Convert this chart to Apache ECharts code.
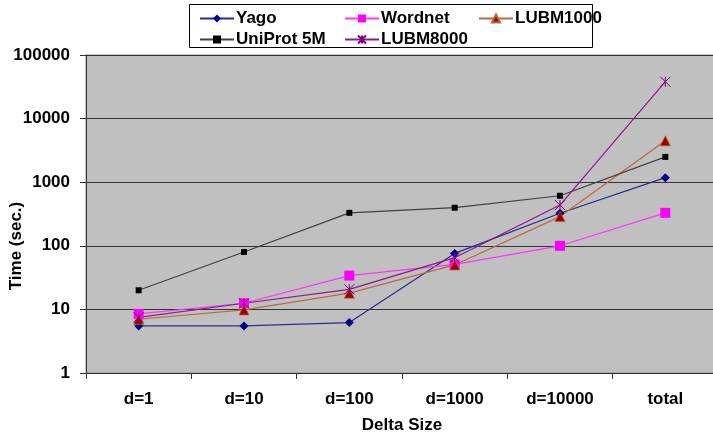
<!DOCTYPE html>
<html><head><meta charset="utf-8">
<script src="https://cdn.jsdelivr.net/npm/echarts@6/dist/echarts.min.js"></script>
<style>html,body{margin:0;padding:0;background:#fff}#c{width:713px;height:436px}</style>
</head><body><div id="c"></div>
<script>
const categories = ['d=1','d=10','d=100','d=1000','d=10000','total'];
const yago     = [5.5, 5.5, 6.2, 76, 325, 1180];
const wordnet  = [8.5, 12.5, 34, 51, 100, 330];
const lubm1000 = [7, 9.8, 18, 50, 288, 4480];
const uniprot  = [20, 80, 330, 397, 612, 2500];
const lubm8000 = [7.5, 12.5, 20.7, 65, 437, 38000];
const yTicks = [1, 10, 100, 1000, 10000, 100000];

const font = 'Liberation Sans, Arial, sans-serif';
const chart = echarts.init(document.getElementById('c'));
const star = 'path://M0,0L10,10M10,0L0,10M5,0L5,10';

function legendAt(name, left, top) {
  return {
    data: [name], left: left, top: top, padding: 0, orient: 'horizontal',
    itemWidth: 34, itemHeight: 10, itemGap: 0,
    textStyle: { fontFamily: font, fontWeight: 'bold', fontSize: 17, color: '#000', padding: [0,0,0,-3] },
    selectedMode: false
  };
}

chart.setOption({
  animation: false,
  backgroundColor: '#fff',
  graphic: [
    { type: 'rect', shape: { x: 189.5, y: 4.5, width: 403, height: 43 }, style: { fill: '#fff', stroke: '#000', lineWidth: 1 }, z: 0 },
    { type: 'text', x: 16, y: 246, rotation: Math.PI / 2, style: { text: 'Time (sec.)', fontFamily: font, fontWeight: 'bold', fontSize: 17, fill: '#000', align: 'center', verticalAlign: 'middle' } }
  ],
  legend: [
    legendAt('Yago', 199, 10),
    legendAt('Wordnet', 344, 10),
    legendAt('LUBM1000', 478, 10),
    legendAt('UniProt 5M', 199, 31),
    legendAt('LUBM8000', 344, 31)
  ],
  grid: { left: 86, top: 55, width: 632, height: 318, outerBoundsMode: 'none', containLabel: false,
    show: true, backgroundColor: '#c0c0c0', borderColor: '#909090', borderWidth: 1 },
  xAxis: {
    type: 'category', data: categories, boundaryGap: true,
    name: 'Delta Size', nameLocation: 'middle', nameGap: 44,
    nameTextStyle: { fontFamily: font, fontWeight: 'bold', fontSize: 17, color: '#000' },
    axisLine: { lineStyle: { color: '#333', width: 1 } },
    axisTick: { show: true, length: 6, inside: false, alignWithLabel: false, lineStyle: { color: '#333' } },
    axisLabel: { fontFamily: font, fontWeight: 'bold', fontSize: 17, color: '#000', margin: 18 },
    splitLine: { show: false }
  },
  yAxis: {
    type: 'log', logBase: 10, min: 1, max: 100000,
    axisLine: { show: true, lineStyle: { color: '#333', width: 1 } },
    axisTick: { show: true, length: 6, lineStyle: { color: '#333' } },
    minorTick: { show: false },
    axisLabel: { fontFamily: font, fontWeight: 'bold', fontSize: 17, color: '#000', margin: 16,
      formatter: v => String(Math.round(v)) },
    splitLine: { show: true, lineStyle: { color: '#333', width: 1 } }
  },
  series: [
    { name: 'Yago', type: 'line', data: yago, symbol: 'diamond', symbolSize: 9,
      lineStyle: { color: '#2a2a90', width: 1.2 }, itemStyle: { color: '#000080' } },
    { name: 'Wordnet', type: 'line', data: wordnet, symbol: 'rect', symbolSize: 10,
      lineStyle: { color: '#ff33ff', width: 1.2 }, itemStyle: { color: '#ff00ff' } },
    { name: 'LUBM1000', type: 'line', data: lubm1000, symbol: 'triangle', symbolSize: 10,
      lineStyle: { color: '#b86a40', width: 1.2 }, itemStyle: { color: '#990000', borderColor: '#c06030', borderWidth: 0.8 } },
    { name: 'UniProt 5M', type: 'line', data: uniprot, symbol: 'rect', symbolSize: 6,
      lineStyle: { color: '#404040', width: 1.2 }, itemStyle: { color: '#000' } },
    { name: 'LUBM8000', type: 'line', data: lubm8000, symbol: star, symbolSize: 10,
      lineStyle: { color: '#8a1a8a', width: 1.2 }, itemStyle: { color: '#800080', borderColor: '#800080', borderWidth: 1 } }
  ]
});
</script></body></html>
